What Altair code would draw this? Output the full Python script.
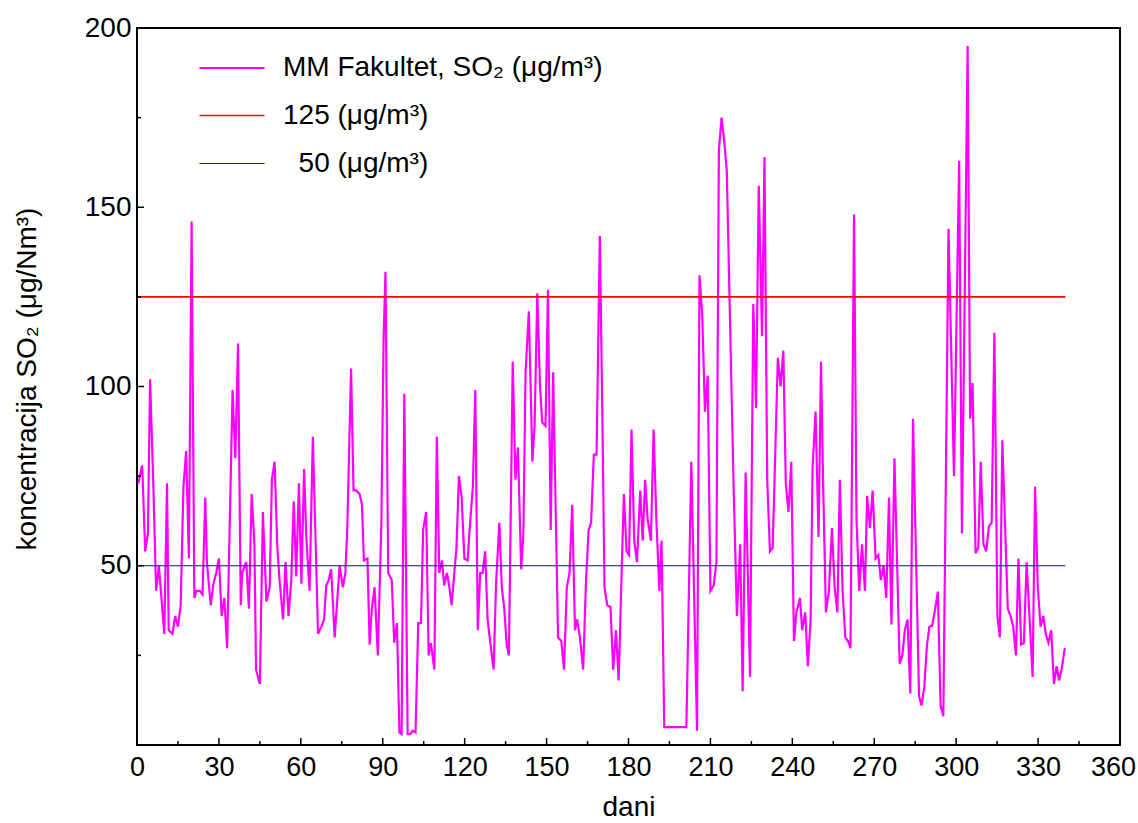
import altair as alt
import pandas as pd

# ---- data (day, SO2 concentration) ----
MM_DAYS = [
    0.5, 1.9, 3, 4, 4.8, 6, 7, 8, 10, 11, 11.6, 13, 14, 15, 16, 17, 18, 19, 20, 21,
    21.7, 23, 24, 25, 25.6, 27, 28, 29, 30, 31, 32, 33, 35, 36, 37, 38, 38.5, 40, 41, 42,
    43, 43.6, 45, 46.1, 47.4, 48.6, 49.4, 50.4, 51.4, 52.2, 53.5, 54.4, 55.5, 56.5, 57.4, 58.3,
    59.3, 60.2, 61.2, 62, 63.2, 64.4, 66.3, 67.5, 68.5, 69.3, 70.2, 71.1, 72.4, 74.2, 75.4, 76.3,
    77, 78.4, 79.3, 80.3, 81.5, 82.4, 83.1, 84.4, 85.2, 86, 87, 88.2, 89.5, 90.3, 91, 92,
    93.3, 94.2, 95.2, 96.1, 96.9, 97.9, 99.1, 100.1, 101, 102, 103, 104, 104.8, 105.9, 106.8, 107.6,
    108.9, 109.8, 110.7, 111.7, 112.5, 113.5, 114.4, 115.2, 117, 117.9, 118.9, 119.9, 121.1, 121.7, 123, 123.9,
    124.8, 125.7, 126.6, 127.5, 128.4, 129.4, 130.6, 131.5, 132.7, 133.6, 134.5, 135.4, 136.2, 137.6, 138.6, 139.5,
    140.7, 141.5, 142.3, 143.5, 144.8, 145.6, 146.6, 147.6, 148.4, 149.6, 150.5, 151.5, 152.4, 154.2, 155.4, 156.4,
    157.4, 158.4, 159.4, 160.4, 161.2, 162.2, 163.4, 164.4, 165.4, 166.3, 167.3, 168.3, 169.5, 170.6, 171.2, 172.2,
    173.4, 174.4, 175.4, 176.4, 177.3, 178.3, 179.3, 180.2, 181.1, 182.1, 183.1, 184.3, 185.2, 186.1, 187, 188.2,
    189.2, 190.2, 191.3, 192.1, 193.1, 201.2, 203, 205.1, 206, 207, 208, 209, 210, 211.2, 212.2, 213.1,
    214.1, 215.1, 216, 218.5, 219.7, 220.9, 221.8, 222.9, 224.5, 225.7, 226.7, 227.7, 228.9, 229.8, 230.8, 231.8,
    232.8, 234.7, 235.7, 236.7, 237.6, 238.6, 239.6, 240.6, 241.5, 242.8, 243.6, 244.7, 245.7, 246.7, 247.4, 248.5,
    249.6, 250.5, 251.3, 252.3, 253.4, 254.5, 255.5, 256.5, 257.4, 258.4, 259.4, 260.4, 261.3, 262.6, 263.5, 264.5,
    265.5, 266.6, 267.4, 268.4, 269.4, 270.5, 271.5, 272.4, 273.4, 274.4, 275.4, 276.3, 277.4, 279.3, 280.3, 281.2,
    282.2, 283.2, 284.2, 286.4, 287.3, 288.3, 289.3, 290.2, 291.2, 292.2, 293.3, 294.3, 295.3, 297.2, 299.2, 301.1,
    302.1, 304.2, 305.1, 306, 307.1, 308.1, 309, 310, 311, 312, 313, 314, 315.1, 316, 316.9, 318.9,
    319.9, 320.9, 321.9, 322.8, 323.8, 324.8, 325.8, 328, 328.9, 329.9, 330.9, 331.9, 332.8, 333.8, 334.8, 335.8,
    336.8, 337.7, 338.7, 339.8,
]
MM_VALUES = [
    73, 78, 54, 59, 102, 72, 43, 50, 31, 73, 32, 31, 36, 33, 39, 72, 82, 52, 146, 41,
    43, 43, 42, 69, 51, 39, 45, 48, 52, 36, 41, 27, 99, 80, 112, 39, 48, 51, 38, 70,
    56, 21, 17, 65, 40, 44, 74, 79, 55, 46, 35, 51, 36, 46, 68, 47,
    73, 45, 77, 58, 43, 86, 31, 33, 35, 44.5, 46, 49, 30, 50, 44, 48,
    60, 105, 71, 71, 70, 67, 51.5, 52, 28, 38, 44, 25, 62, 113, 132, 48,
    46, 28.5, 34, 3.5, 3, 98, 3, 3, 4, 3.5, 34, 34, 60, 65, 25, 28.5,
    21, 86, 48, 51.5, 44.5, 48, 44, 39, 55, 75, 69, 52, 51.5, 59, 72, 99,
    32, 48, 48, 54, 35, 28.5, 21, 45, 62, 44, 38, 28, 25, 107, 74, 83,
    49, 59, 104, 121, 79, 89, 126, 100, 90, 89, 127, 60, 104, 30, 29, 21,
    44, 48, 67, 32, 35, 30, 21, 45, 60, 62, 81, 81, 142, 82, 44, 39,
    38.5, 21, 32, 18, 43, 70, 54, 53, 88, 57, 51, 71, 57, 74, 63, 57,
    88, 63, 43, 57, 5, 5, 79, 4, 131, 120, 93, 103, 43, 44.5, 51, 166,
    175, 168, 160, 72, 36, 56, 15, 76, 19, 123, 94, 156, 114, 164, 74, 54,
    55, 108, 100, 110, 73, 65, 79, 29, 37, 41, 32, 37, 22, 35, 77, 93,
    58, 107, 72, 37, 43, 60.5, 44, 37, 74, 43, 30, 29, 27, 148, 63, 43,
    56, 43, 69.5, 60.5, 71, 52, 53, 46, 50, 41, 69, 33.6, 80, 22.7, 25, 32,
    35, 14.4, 91, 13.7, 11, 16, 27.8, 33, 33.3, 37.4, 42.8, 11, 8, 144, 75, 163,
    59, 195, 91, 101, 53.5, 55, 79, 56, 54, 61, 62, 115, 36, 30, 85, 38,
    36, 33, 25, 52, 28, 28.5, 51, 19, 72, 44, 33, 36, 31, 28.5, 32, 17,
    22, 18, 21.5, 27,
]

SERIES_NAMES = ["MM Fakultet, SO\u2082 (\u03bcg/m\u00b3)", "125 (\u03bcg/m\u00b3)",
                "\u200b\u00a0\u00a050 (\u03bcg/m\u00b3)"]
SERIES_COLORS = ["#FF00FF", "#FF0000", "#0000FF"]
SERIES_WIDTHS = [2.2, 1.2, 1.2]
LIMIT_VALUES = [125, 50]
LIMIT_SPAN = [0, 340]

X_MAJOR = list(range(0, 361, 30))
X_MINOR = list(range(15, 360, 30))
Y_LABELS = [50, 100, 150, 200]
Y_MAJOR = [50, 100, 150]
Y_MINOR = [25, 75, 125, 175]

W, H = 983, 717
FONT = "Liberation Sans"
X_TITLE = "dani"
Y_TITLE = "koncentracija SO\u2082 (\u03bcg/Nm\u00b3)"

rows = []
for d, v in zip(MM_DAYS, MM_VALUES):
    rows.append({"day": d, "value": v, "series": SERIES_NAMES[0]})
for name, lv in zip(SERIES_NAMES[1:], LIMIT_VALUES):
    for d in LIMIT_SPAN:
        rows.append({"day": d, "value": lv, "series": name})
df = pd.DataFrame(rows)

xscale = alt.Scale(domain=[0, 360], nice=False)
yscale = alt.Scale(domain=[0, 200], nice=False)
x_axis = alt.Axis(values=X_MAJOR, titleY=62, titleBaseline="middle",
                  labelFlush=False, labelOverlap=False, labelFontSize=27,
                  labelOffset={"condition": {"test": "datum.value == 360", "value": -7},
                               "value": 0})
y_axis = alt.Axis(values=Y_LABELS, titleX=-110, titleY=H / 2 - 8,
                  titleBaseline="middle", titleAngle=-90,
                  labelFlush=False, labelOverlap=False)


def xenc(field):
    return alt.X(field, type="quantitative", scale=xscale, title=X_TITLE, axis=x_axis)


def yenc(field):
    return alt.Y(field, type="quantitative", scale=yscale, title=Y_TITLE, axis=y_axis)


lines = alt.Chart(df).mark_line(clip=True).encode(
    x=xenc("day"),
    y=yenc("value"),
    color=alt.Color("series:N",
                    scale=alt.Scale(domain=SERIES_NAMES, range=SERIES_COLORS),
                    legend=alt.Legend(title=None, orient="none", legendX=61, legendY=6,
                                      symbolType="stroke", symbolSize=4225,
                                      symbolStrokeWidth=2, labelFontSize=28,
                                      labelFont=FONT, labelOffset=17, labelLimit=700,
                                      padding=0, rowPadding=-21)),
    strokeWidth=alt.StrokeWidth("series:N",
                                scale=alt.Scale(domain=SERIES_NAMES, range=SERIES_WIDTHS),
                                legend=None),
    order=alt.Order("day:Q"),
)

xmaj = alt.Chart(pd.DataFrame({"day": X_MAJOR})).mark_rule(color="black", strokeWidth=1.5).encode(
    x=xenc("day"), y=alt.value(H), y2=alt.value(H - 7))
xmin = alt.Chart(pd.DataFrame({"day": X_MINOR})).mark_rule(color="black", strokeWidth=1.5).encode(
    x=xenc("day"), y=alt.value(H), y2=alt.value(H - 4))
ymaj = alt.Chart(pd.DataFrame({"value": Y_MAJOR})).mark_rule(color="black", strokeWidth=1.5).encode(
    y=yenc("value"), x=alt.value(0), x2=alt.value(7))
ymin = alt.Chart(pd.DataFrame({"value": Y_MINOR})).mark_rule(color="black", strokeWidth=1.5).encode(
    y=yenc("value"), x=alt.value(0), x2=alt.value(4))

chart = alt.layer(lines, xmaj, xmin, ymaj, ymin).properties(
    width=W, height=H,
    autosize=alt.AutoSizeParams(type="none"),
    padding={"left": 137, "top": 28, "right": 18, "bottom": 78},
).configure_view(
    stroke="black", strokeWidth=2
).configure_axis(
    domain=False, ticks=False, grid=False,
    labelFont=FONT, labelFontSize=28, labelColor="black",
    titleFont=FONT, titleFontSize=28, titleFontWeight="normal", titleColor="black",
).configure_axisX(labelPadding=9).configure_axisY(labelPadding=6)

chart.save("out.html", embed_options={"renderer": "svg", "actions": False})
